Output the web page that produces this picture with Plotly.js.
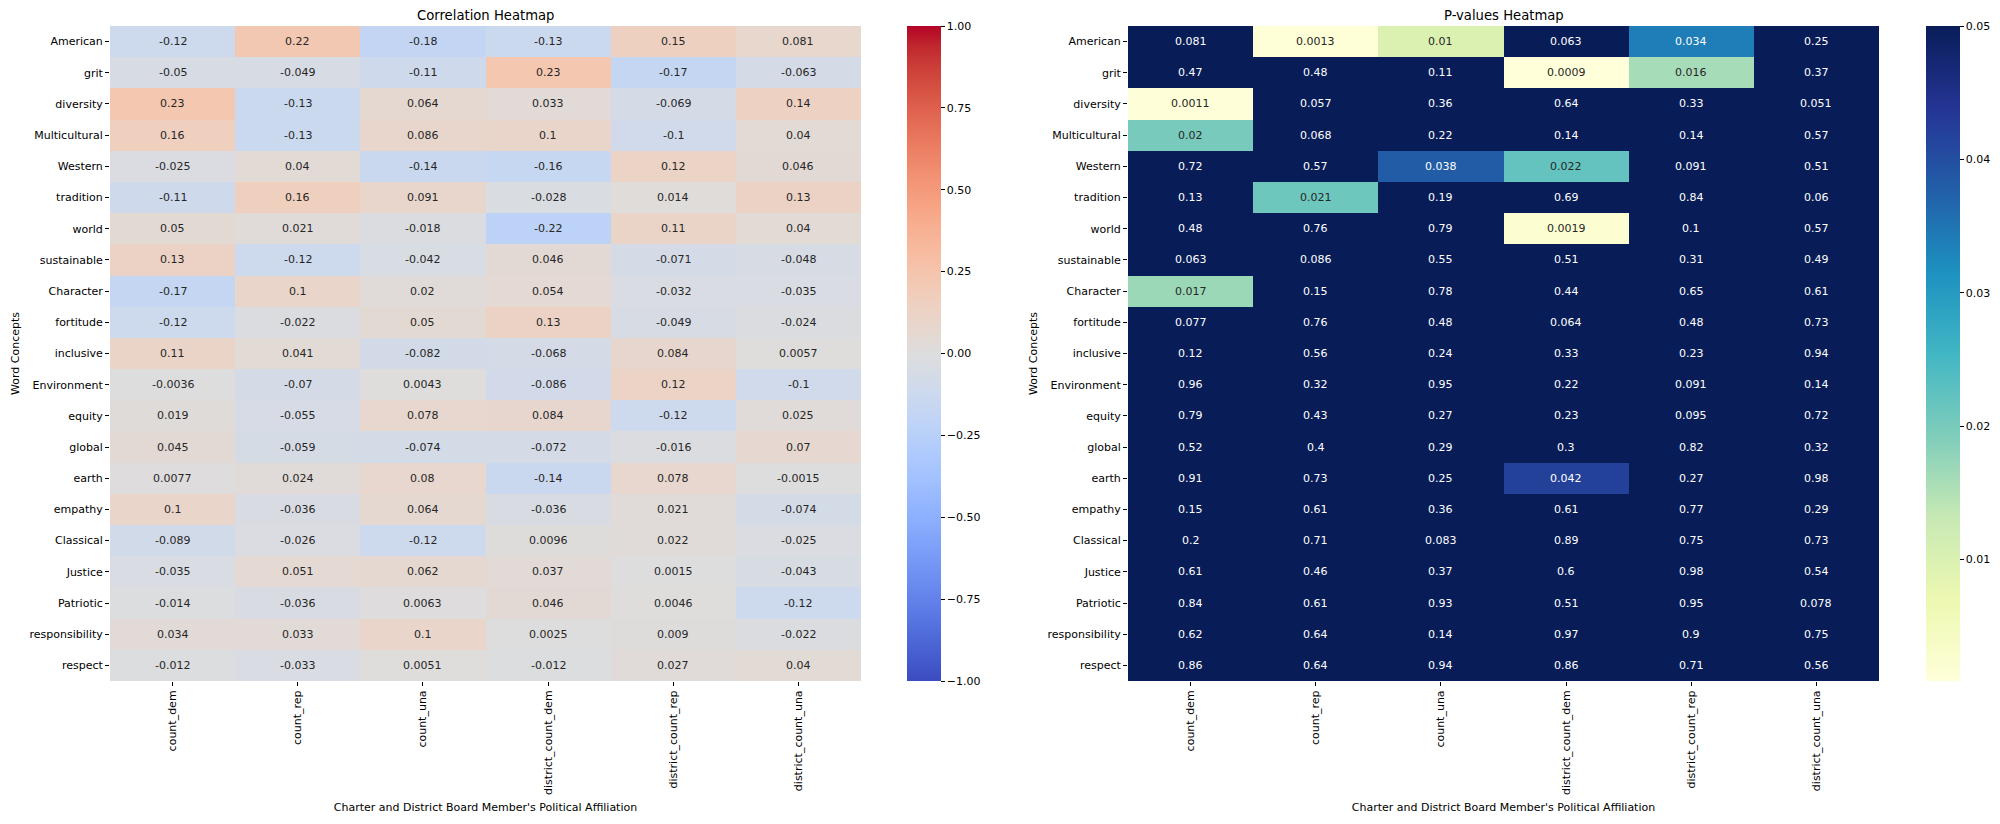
<!DOCTYPE html>
<html><head><meta charset="utf-8">
<script src="https://cdn.plot.ly/plotly-3.0.1.min.js"></script>
<style>html,body{margin:0;padding:0;background:#fff;} #chart{width:2000px;height:824px;}</style>
</head><body><div id="chart"></div>
<script>
// ---------- DATA ----------
const words = ['American','grit','diversity','Multicultural','Western','tradition','world','sustainable','Character','fortitude','inclusive','Environment','equity','global','earth','empathy','Classical','Justice','Patriotic','responsibility','respect'];
const affiliations = ['count_dem','count_rep','count_una','district_count_dem','district_count_rep','district_count_una'];

const corrValues = [
  [-0.12, 0.22, -0.18, -0.13, 0.15, 0.081],
  [-0.05, -0.049, -0.11, 0.23, -0.17, -0.063],
  [0.23, -0.13, 0.064, 0.033, -0.069, 0.14],
  [0.16, -0.13, 0.086, 0.1, -0.1, 0.04],
  [-0.025, 0.04, -0.14, -0.16, 0.12, 0.046],
  [-0.11, 0.16, 0.091, -0.028, 0.014, 0.13],
  [0.05, 0.021, -0.018, -0.22, 0.11, 0.04],
  [0.13, -0.12, -0.042, 0.046, -0.071, -0.048],
  [-0.17, 0.1, 0.02, 0.054, -0.032, -0.035],
  [-0.12, -0.022, 0.05, 0.13, -0.049, -0.024],
  [0.11, 0.041, -0.082, -0.068, 0.084, 0.0057],
  [-0.0036, -0.07, 0.0043, -0.086, 0.12, -0.1],
  [0.019, -0.055, 0.078, 0.084, -0.12, 0.025],
  [0.045, -0.059, -0.074, -0.072, -0.016, 0.07],
  [0.0077, 0.024, 0.08, -0.14, 0.078, -0.0015],
  [0.1, -0.036, 0.064, -0.036, 0.021, -0.074],
  [-0.089, -0.026, -0.12, 0.0096, 0.022, -0.025],
  [-0.035, 0.051, 0.062, 0.037, 0.0015, -0.043],
  [-0.014, -0.036, 0.0063, 0.046, 0.0046, -0.12],
  [0.034, 0.033, 0.1, 0.0025, 0.009, -0.022],
  [-0.012, -0.033, 0.0051, -0.012, 0.027, 0.04]
];

const pValues = [
  [0.081, 0.0013, 0.01, 0.063, 0.034, 0.25],
  [0.47, 0.48, 0.11, 0.0009, 0.016, 0.37],
  [0.0011, 0.057, 0.36, 0.64, 0.33, 0.051],
  [0.02, 0.068, 0.22, 0.14, 0.14, 0.57],
  [0.72, 0.57, 0.038, 0.022, 0.091, 0.51],
  [0.13, 0.021, 0.19, 0.69, 0.84, 0.06],
  [0.48, 0.76, 0.79, 0.0019, 0.1, 0.57],
  [0.063, 0.086, 0.55, 0.51, 0.31, 0.49],
  [0.017, 0.15, 0.78, 0.44, 0.65, 0.61],
  [0.077, 0.76, 0.48, 0.064, 0.48, 0.73],
  [0.12, 0.56, 0.24, 0.33, 0.23, 0.94],
  [0.96, 0.32, 0.95, 0.22, 0.091, 0.14],
  [0.79, 0.43, 0.27, 0.23, 0.095, 0.72],
  [0.52, 0.4, 0.29, 0.3, 0.82, 0.32],
  [0.91, 0.73, 0.25, 0.042, 0.27, 0.98],
  [0.15, 0.61, 0.36, 0.61, 0.77, 0.29],
  [0.2, 0.71, 0.083, 0.89, 0.75, 0.73],
  [0.61, 0.46, 0.37, 0.6, 0.98, 0.54],
  [0.84, 0.61, 0.93, 0.51, 0.95, 0.078],
  [0.62, 0.64, 0.14, 0.97, 0.9, 0.75],
  [0.86, 0.64, 0.94, 0.86, 0.71, 0.56]
];

const corrMin = -1, corrMax = 1;
const corrTickVals = [-1, -0.75, -0.5, -0.25, 0, 0.25, 0.5, 0.75, 1];
const corrTickText = ['\u22121.00', '\u22120.75', '\u22120.50', '\u22120.25', '0.00', '0.25', '0.50', '0.75', '1.00'];
const pMax = 0.05;
const pTickVals = [0.01, 0.02, 0.03, 0.04, 0.05];
const pTickText = ['0.01', '0.02', '0.03', '0.04', '0.05'];

const titleLeft = 'Correlation Heatmap';
const titleRight = 'P-values Heatmap';
const xTitle = "Charter and District Board Member's Political Affiliation";
const yTitle = 'Word Concepts';

// ---------- STYLE ----------
const coolwarmRGB = [
  [59,76,192],[68,90,204],[77,104,215],[87,117,225],[98,130,234],[108,142,241],[119,154,247],[130,165,251],
  [141,176,254],[152,185,255],[163,194,255],[174,201,253],[184,208,249],[194,213,244],[204,217,238],[213,219,230],
  [221,221,221],[229,216,209],[236,211,197],[241,204,185],[245,196,173],[247,187,160],[247,177,148],[247,166,135],
  [244,154,123],[241,141,111],[236,127,99],[229,112,88],[222,96,77],[213,80,66],[203,62,56],[192,40,47],[180,4,38]
];
const ylgnbuRGB = [
  [255,255,217],[237,248,177],[199,233,180],[127,205,187],[65,182,196],[29,145,192],[34,94,168],[37,52,148],[8,29,88]
];
function toScale(rgbs) {
  return rgbs.map((c, i) => [i / (rgbs.length - 1), 'rgb(' + c.join(',') + ')']);
}
function interp(rgbs, t) {
  t = Math.max(0, Math.min(1, t));
  const pos = t * (rgbs.length - 1);
  const i = Math.min(Math.floor(pos), rgbs.length - 2);
  const f = pos - i;
  return [0, 1, 2].map(k => rgbs[i][k] + (rgbs[i + 1][k] - rgbs[i][k]) * f);
}
function lum(rgb) {
  const c = rgb.map(v => { v /= 255; return v <= 0.03928 ? v / 12.92 : Math.pow((v + 0.055) / 1.055, 2.4); });
  return 0.2126 * c[0] + 0.7152 * c[1] + 0.0722 * c[2];
}
function fmt2g(v) {
  let s = v.toPrecision(2);
  if (s.indexOf('e') < 0 && s.indexOf('.') >= 0) s = s.replace(/0+$/, '').replace(/\.$/, '');
  return s;
}

const FONT = 'DejaVu Sans, sans-serif';
const W = 2000, H = 824;
const yTop = 26, yBot = 681;
const left1 = 110, right1 = 861, left2 = 1128, right2 = 1879;
const cb1 = 907, cb2 = 1926, cbW = 34;

const pMin = Math.min(...pValues.flat());

const annotations = [];
function addCellText(vals, rgbs, zmin, zmax, xa, ya) {
  vals.forEach((row, r) => row.forEach((v, c) => {
    const col = interp(rgbs, (v - zmin) / (zmax - zmin));
    annotations.push({
      x: affiliations[c], y: words[r], xref: xa, yref: ya, text: fmt2g(v), showarrow: false,
      font: {family: FONT, size: 11, color: lum(col) > 0.408 ? '#262626' : '#ffffff'}
    });
  }));
}
addCellText(corrValues, coolwarmRGB, corrMin, corrMax, 'x', 'y');
addCellText(pValues, ylgnbuRGB, pMin, pMax, 'x2', 'y2');

annotations.push({text: titleLeft, xref: 'paper', yref: 'paper', x: (left1 + right1) / 2 / W, y: 1 - 15 / H,
  xanchor: 'center', yanchor: 'middle', showarrow: false, font: {family: FONT, size: 13.2, color: '#000'}});
annotations.push({text: titleRight, xref: 'paper', yref: 'paper', x: (left2 + right2) / 2 / W, y: 1 - 15 / H,
  xanchor: 'center', yanchor: 'middle', showarrow: false, font: {family: FONT, size: 13.2, color: '#000'}});

function cbar(x, vals, txt) {
  return {
    x: x / W, xanchor: 'left', xref: 'paper', y: 1 - yTop / H, yanchor: 'top', yref: 'paper',
    len: yBot - yTop, lenmode: 'pixels', thickness: cbW, thicknessmode: 'pixels',
    xpad: 0, ypad: 0, outlinewidth: 0, ticks: 'outside', ticklen: 4, tickwidth: 1, tickcolor: '#000',
    tickvals: vals, ticktext: txt, tickfont: {family: FONT, size: 11, color: '#000'}
  };
}

const traces = [
  {type: 'heatmap', x: affiliations, y: words, z: corrValues, zmin: corrMin, zmax: corrMax,
   colorscale: toScale(coolwarmRGB), xaxis: 'x', yaxis: 'y', hoverinfo: 'x+y+z',
   colorbar: cbar(cb1, corrTickVals, corrTickText)},
  {type: 'heatmap', x: affiliations, y: words, z: pValues, zmin: pMin, zmax: pMax,
   colorscale: toScale(ylgnbuRGB), xaxis: 'x2', yaxis: 'y2', hoverinfo: 'x+y+z',
   colorbar: cbar(cb2, pTickVals, pTickText)}
];

function xax(l, r, anchor) {
  return {domain: [l / W, r / W], anchor: anchor, showgrid: false, zeroline: false, showline: false,
    ticks: 'outside', ticklen: 4, tickwidth: 1, tickcolor: '#000', tickangle: -90,
    tickfont: {family: FONT, size: 11, color: '#000'}, automargin: false,
    title: {text: xTitle, font: {family: FONT, size: 11, color: '#000'}, standoff: 9}};
}
function yax(anchor) {
  return {domain: [1 - yBot / H, 1 - yTop / H], anchor: anchor, autorange: 'reversed', showgrid: false,
    zeroline: false, showline: false, ticks: 'outside', ticklen: 4, tickwidth: 1, tickcolor: '#000',
    tickfont: {family: FONT, size: 11, color: '#000'}, automargin: false,
    title: {text: yTitle, font: {family: FONT, size: 11, color: '#000'}, standoff: 7}};
}

const layout = {
  width: W, height: H, margin: {l: 0, r: 0, t: 0, b: 0}, paper_bgcolor: '#fff', plot_bgcolor: '#fff',
  font: {family: FONT, color: '#000'}, showlegend: false,
  xaxis: xax(left1, right1, 'y'), yaxis: yax('x'),
  xaxis2: xax(left2, right2, 'y2'), yaxis2: yax('x2'),
  annotations: annotations
};

Plotly.newPlot('chart', traces, layout, {displayModeBar: false, staticPlot: true});
</script>
</body></html>
